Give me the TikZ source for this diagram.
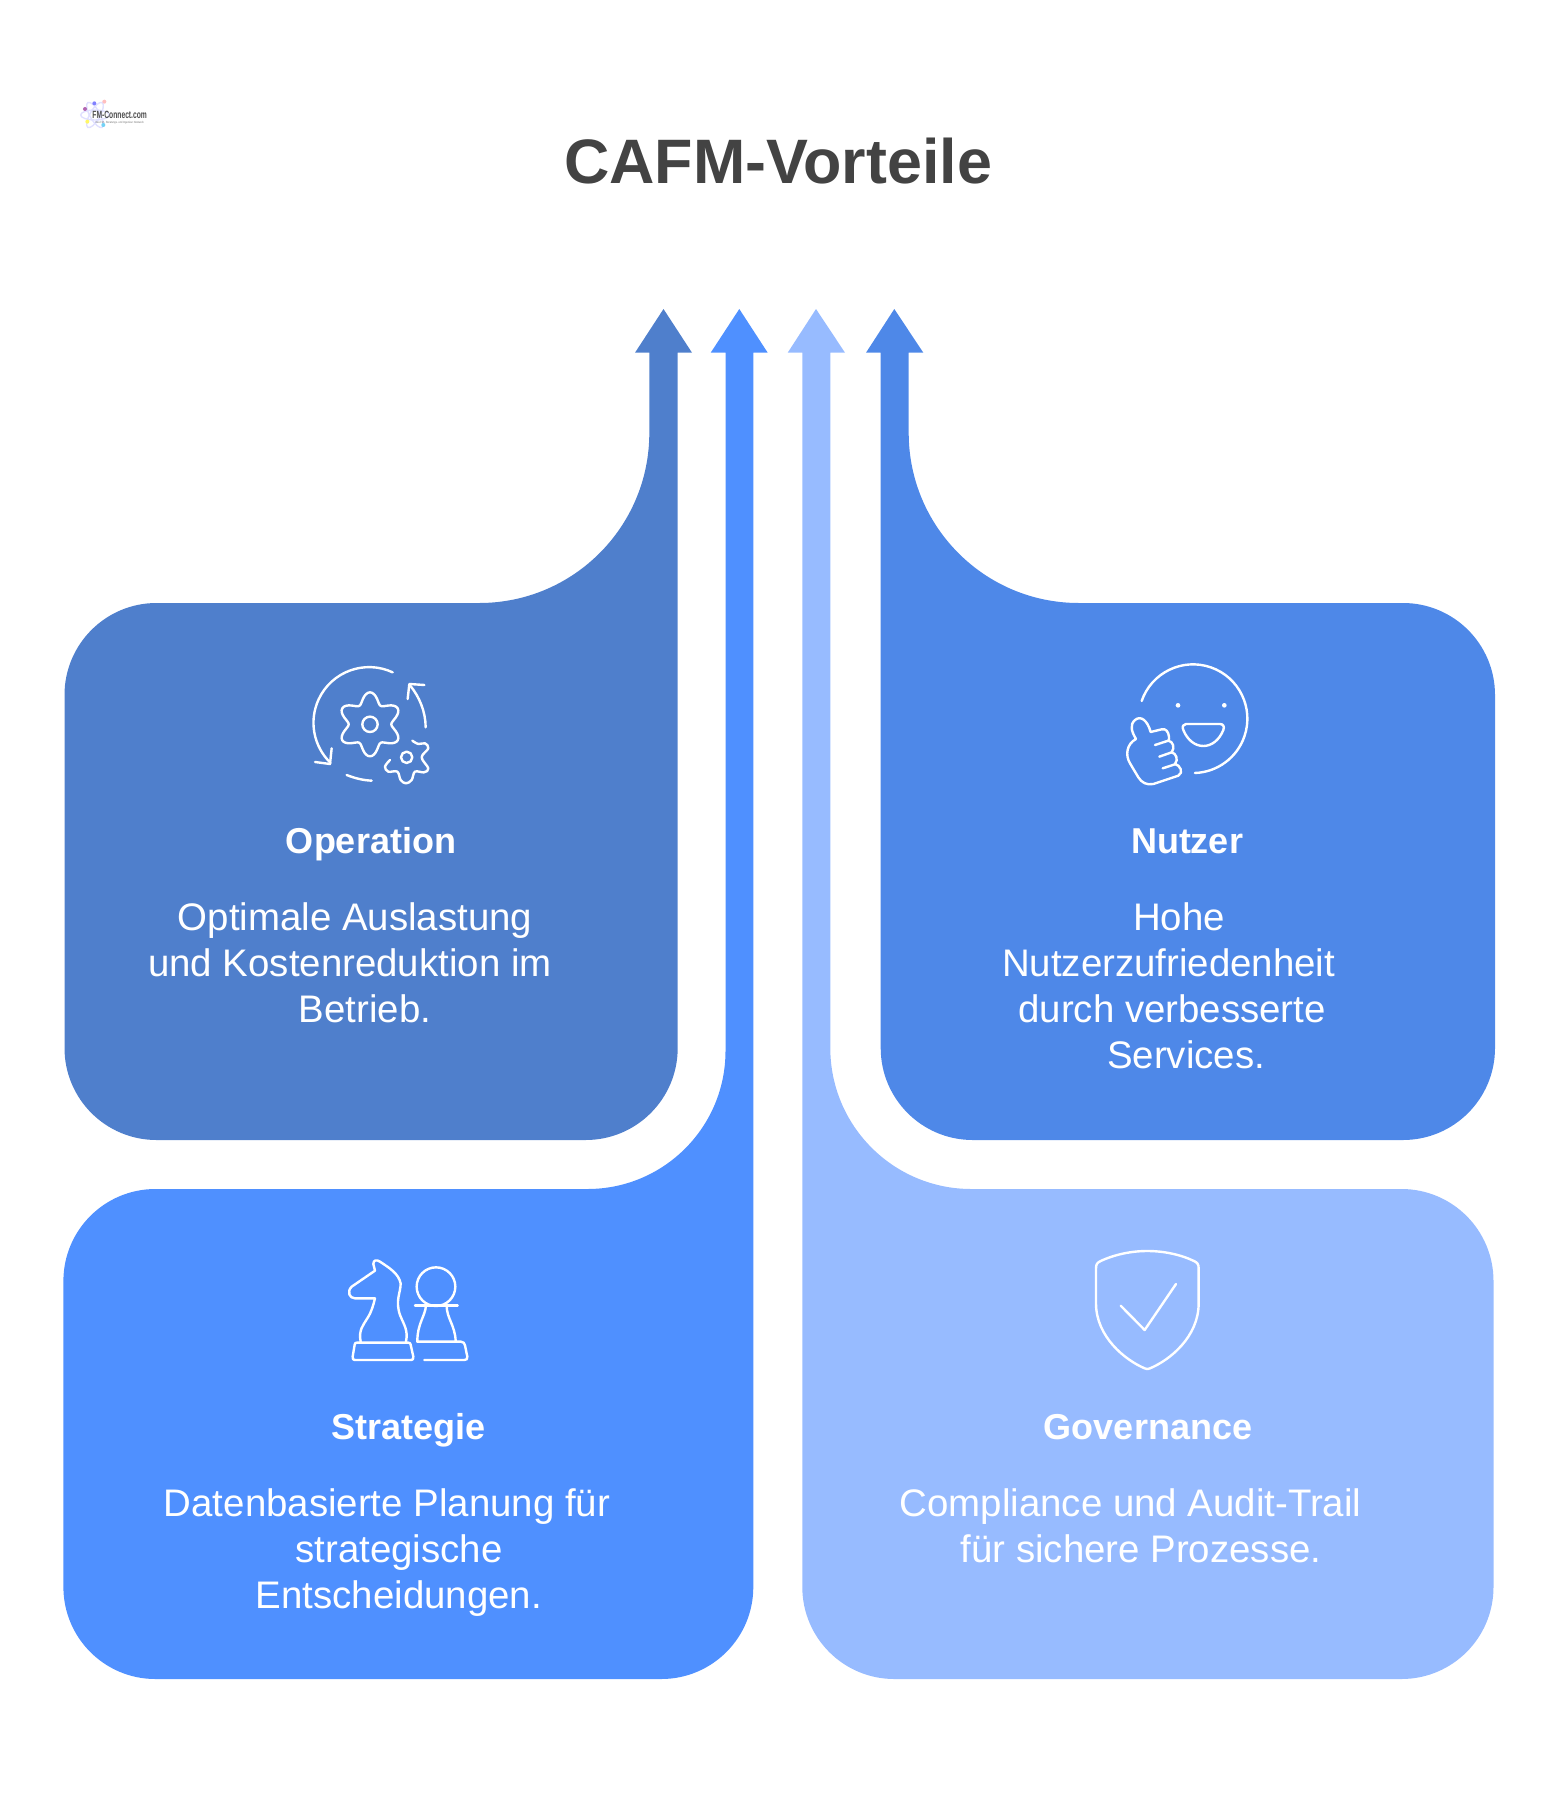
\documentclass[tikz,border=0pt]{standalone}
\usepackage{fontspec}
\setmainfont{Liberation Sans}
\usepackage{tikz}
\usetikzlibrary{positioning}
\definecolor{opblue}{HTML}{4F7FCC}
\definecolor{strblue}{HTML}{4F90FF}
\definecolor{govblue}{HTML}{97BBFF}
\definecolor{nutblue}{HTML}{4E88E8}
\definecolor{titlegray}{HTML}{434343}
\tikzset{
  zoomed/.style={x=.3333pt,y=-.3333pt},
  iconline/.style={draw=white,line width=2.4pt,line cap=round,line join=round},
  head/.style={text=white,inner sep=0pt,text height=27pt,text depth=8pt,font=\fontsize{36}{40}\selectfont\bfseries},
  desc/.style={text=white,inner sep=0pt,align=center,font=\fontsize{38.4}{46}\selectfont}
}
\begin{document}
\begin{tikzpicture}[x=1pt,y=-1pt,node distance=41pt]
      \useasboundingbox (0,0) rectangle (1558,1806);
      \node (title) [anchor=base,text=titlegray,font=\fontsize{62.8}{66}\selectfont\bfseries] at (778,184) {CAFM-Vorteile};
    \fill [opblue] (663.5,309) -- (692,352.7) -- (677.7,352.7) [rounded corners=92pt] -- (677.7,1140) -- (64.5,1140) -- (64.5,603) [rounded corners=170pt] -- (649.3,603) [sharp corners] -- (649.3,352.7) -- (635,352.7) -- cycle;
    \fill [strblue] (739.3,309) -- (767.7,352.7) -- (753.3,352.7) [rounded corners=92pt] -- (753.3,1679) -- (63.4,1679) -- (63.4,1189) [rounded corners=138pt] -- (725.5,1189) [sharp corners] -- (725.5,352.7) -- (710.7,352.7) -- cycle;
    \fill [govblue] (816,309) -- (845,352.7) -- (830.3,352.7) [rounded corners=141pt] -- (830.3,1189) [rounded corners=92pt] -- (1493.5,1189) -- (1493.5,1679) -- (802.3,1679) [sharp corners] -- (802.3,352.7) -- (787.7,352.7) -- cycle;
    \fill [nutblue] (894.3,309) -- (923.3,352.7) -- (908.7,352.7) [rounded corners=170pt] -- (908.7,603) [rounded corners=92pt] -- (1495,603) -- (1495,1140) -- (880.7,1140) [sharp corners] -- (880.7,352.7) -- (866,352.7) -- cycle;
      \node (ophead) [head] at (371,844.2) {Operation};
      \node (optext) [desc,below=of ophead,xshift=-21pt] {\hspace*{10pt}Optimale Auslastung\\und Kostenreduktion im\\\hspace*{30pt}Betrieb.};
      \node (nuthead) [head] at (1187,844.2) {Nutzer};
      \node (nuttext) [desc,below=of nuthead,xshift=-18.4pt] {\hspace*{21pt}Hohe\\Nutzerzufriedenheit\\\hspace*{7pt}durch verbesserte\\\hspace*{35pt}Services.};
      \node (strhead) [head] at (408.5,1430.2) {Strategie};
      \node (strtext) [desc,below=of strhead,xshift=-21.5pt] {Datenbasierte Planung für\\\hspace*{24pt}strategische\\\hspace*{24pt}Entscheidungen.};
      \node (govhead) [head] at (1148,1430.2) {Governance};
      \node (govtext) [desc,below=of govhead,xshift=-17.5pt] {Compliance und Audit-Trail\\\hspace*{21pt}für sichere Prozesse.};
    \begin{scope}[shift={(50,70)},zoomed]
      \foreach \a in {0,60,120}
        \draw [draw=blue!12,line width=1.4pt,rotate around={\a:(135,135)}] (135,135) ellipse [x radius=43,y radius=15];
      \fill [violet!60] (105,117) circle [radius=6];
      \fill [blue!50] (133,100) circle [radius=6];
      \fill [red!25] (163,95) circle [radius=6];
      \fill [yellow!60] (112,155) circle [radius=6];
      \fill [cyan!55] (160,165) circle [radius=6];
      \node (logoname) [inner sep=0pt,text=black!70,xscale=.64,transform shape,font=\fontsize{10.5}{12}\selectfont\bfseries] at (209,135) {FM-Connect.com};
      \node (logosub) [inner sep=0pt,text=black!55,xscale=.8,transform shape,font=\fontsize{3}{4}\selectfont] at (209,157) {Das FM-, Beratungs- und Ingenieur Netzwerk};
    \end{scope}
    \begin{scope}[shift={(280,640)},zoomed,iconline]
      \draw (338,97) arc [start angle=-65,end angle=-226,radius=167];
      \draw (155,325) -- (150,372) -- (105,366);
      \draw (200,405) .. controls (225,415) and (250,421) .. (275,422);
      \draw (437,262) .. controls (437,215) and (418,170) .. (390,136);
      \draw (383,177) -- (388,132) -- (433,135);
      \draw (270,253) circle [radius=23];
      \draw plot [domain=0:360,samples=97,smooth] ({270+(80-16*cos(6*\x))*cos(\x)},{253+(80-16*cos(6*\x))*sin(\x)}) -- cycle;
      \draw (380,352) circle [radius=17];
      \draw plot [smooth,tension=.6] coordinates {(397,302) (415,312) (435,310) (445,325) (425,352) (445,385) (432,397) (405,395) (395,420) (378,430) (362,420) (352,395) (325,395) (315,380) (330,360)};
    \end{scope}
    \begin{scope}[shift={(1100,640)},zoomed,iconline]
      \draw (125,183) arc [start angle=-161,end angle=88,radius=163];
      \fill [white] (234,196) circle [radius=7] (373,196) circle [radius=7];
      \draw (258,252) -- (360,252) .. controls (370,252) and (374,260) .. (370,270) .. controls (358,300) and (335,318) .. (310,318) .. controls (285,318) and (262,300) .. (250,270) .. controls (245,260) and (250,252) .. (258,252) -- cycle;
      \draw (108,297) .. controls (95,275) and (88,255) .. (105,240) .. controls (122,226) and (142,240) .. (152,276) -- (185,268) .. controls (198,265) and (205,275) .. (207,290) .. controls (208,295) and (207,299) .. (205,302) .. controls (218,304) and (226,322) .. (215,337) .. controls (228,340) and (236,358) .. (225,372) .. controls (240,375) and (252,398) .. (235,407) -- (160,432) .. controls (140,436) and (125,428) .. (115,412) -- (90,370) .. controls (75,345) and (80,312) .. (108,297);
      \draw (165,315) -- (205,302);
      \draw (178,350) -- (215,337);
      \draw (188,385) -- (228,372);
    \end{scope}
    \begin{scope}[shift={(330,1240)},zoomed,iconline]
      \draw (80,308) -- (235,308) .. controls (240,308) and (241,310) .. (242,314) -- (250,350) .. controls (251,358) and (248,360) .. (243,360) -- (75,360) .. controls (70,360) and (67,358) .. (68,350) -- (74,314) .. controls (75,310) and (76,308) .. (80,308) -- cycle;
      \draw (92,305) .. controls (85,270) and (100,255) .. (112,235) .. controls (125,215) and (130,195) .. (135,175) -- (75,175) .. controls (58,175) and (50,155) .. (65,140) -- (135,92) -- (130,72) .. controls (130,60) and (140,58) .. (150,65) .. controls (180,85) and (205,100) .. (212,130) .. controls (212,160) and (195,180) .. (210,225) .. controls (222,255) and (235,270) .. (228,305);
      \draw (318,140) circle [radius=58];
      \draw (255,197) -- (383,197);
      \draw (288,197) .. controls (285,230) and (262,250) .. (262,305) -- (393,305) .. controls (400,305) and (404,310) .. (405,316) -- (412,350) .. controls (413,357) and (410,360) .. (403,360) -- (283,360);
      \draw (350,197) .. controls (350,235) and (375,255) .. (377,303);
    \end{scope}
    \begin{scope}[shift={(1070,1240)},zoomed,iconline]
      \draw (92,63) .. controls (135,43) and (185,33) .. (232,33) .. controls (280,33) and (330,43) .. (372,63) .. controls (382,68) and (386,72) .. (386,85) -- (386,190) .. controls (386,290) and (300,360) .. (240,385) .. controls (234,388) and (230,388) .. (224,385) .. controls (165,360) and (78,290) .. (78,190) -- (78,85) .. controls (78,72) and (82,68) .. (92,63) -- cycle;
      \draw (152,197) -- (224,270) -- (318,132);
    \end{scope}
      \end{tikzpicture}
\end{document}
